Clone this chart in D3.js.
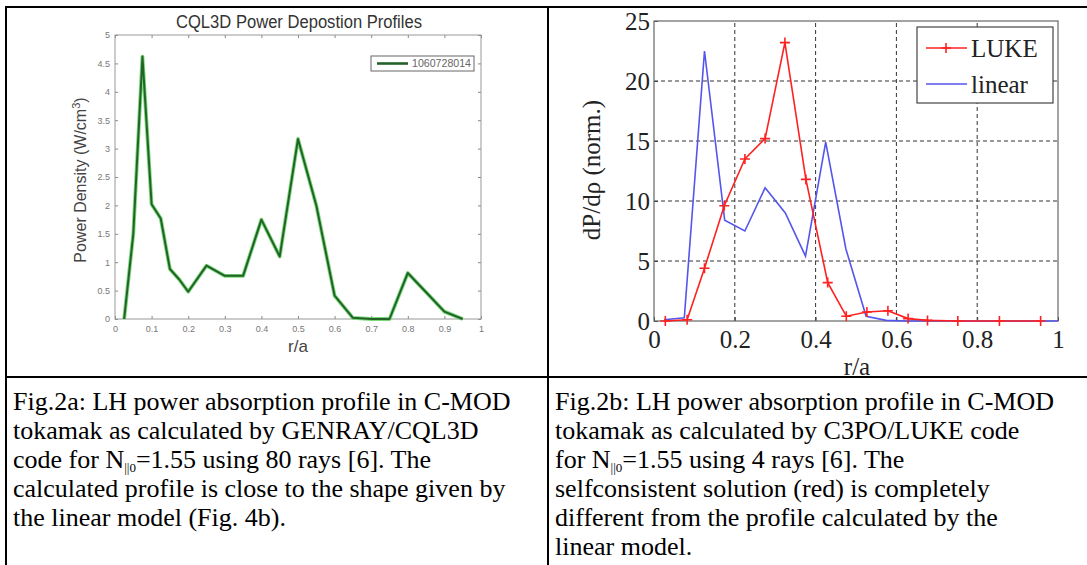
<!DOCTYPE html>
<html><head><meta charset="utf-8">
<script src="https://cdn.jsdelivr.net/npm/d3@7"></script>
<style>
body{margin:0;background:#fff;}
svg{display:block;}
</style></head>
<body>
<svg id="c" width="1087" height="565"></svg>
<script>
// ---- Data ----
const cqlX = [0.025,0.05,0.075,0.1,0.125,0.15,0.175,0.2,0.25,0.3,0.35,0.4,0.45,0.5,0.55,0.6,0.65,0.7,0.75,0.8,0.85,0.9,0.95];
const cqlY = [0,1.5,4.62,2.02,1.77,0.88,0.7,0.48,0.94,0.76,0.76,1.75,1.1,3.17,2.0,0.41,0.02,0,0,0.81,0.47,0.13,0];
const lukeX = [0.028,0.082,0.125,0.174,0.225,0.275,0.324,0.376,0.43,0.476,0.527,0.579,0.629,0.677,0.752,0.855,0.957];
const lukeY = [0,0.1,4.4,9.6,13.5,15.2,23.2,11.8,3.2,0.4,0.75,0.85,0.2,0.05,0,0,0];
const linX = [0.025,0.075,0.125,0.175,0.225,0.275,0.325,0.375,0.425,0.475,0.525,0.575,0.625,0.7,0.8,0.9,1.0];
const linY = [0.1,0.27,22.5,8.4,7.5,11.1,9.0,5.4,14.9,6.0,0.4,0.05,0,0,0,0,0];
const leftXTicks = [0,0.1,0.2,0.3,0.4,0.5,0.6,0.7,0.8,0.9,1];
const leftYTicks = [0,0.5,1,1.5,2,2.5,3,3.5,4,4.5,5];
const rightXTicks = [0,0.2,0.4,0.6,0.8,1];
const rightYTicks = [0,5,10,15,20,25];
const leftTitle = "CQL3D Power Depostion Profiles";
const leftLegend = "1060728014";
const seriesNames = ["LUKE","linear"];

const svg = d3.select("#c");
const SANS = "Liberation Sans, Arial, sans-serif";
const SERIF = "Liberation Serif, Times New Roman, serif";

// ---- Table borders ----
const tb = svg.append("g").attr("stroke","#000").attr("stroke-width",2);
tb.append("line").attr("x1",5).attr("x2",1087).attr("y1",7).attr("y2",7);
tb.append("line").attr("x1",6).attr("x2",6).attr("y1",6).attr("y2",565);
tb.append("line").attr("x1",548).attr("x2",548).attr("y1",6).attr("y2",565);
tb.append("line").attr("x1",5).attr("x2",1087).attr("y1",377).attr("y2",377);

// ---- Left chart ----
const xL = d3.scaleLinear().domain([0,1]).range([115,481]);
const yL = d3.scaleLinear().domain([0,5]).range([319,35]);
const gL = svg.append("g");
const fmtL = d => String(d);
const axStyleL = g => {
  g.select(".domain").remove();
  g.selectAll(".tick line").attr("stroke","#888");
  g.selectAll(".tick text").attr("fill","#777").attr("font-family",SANS).attr("font-size",9);
};
gL.append("g").attr("transform",`translate(0,${yL(0)})`)
  .call(d3.axisBottom(xL).tickValues(leftXTicks).tickFormat(fmtL).tickSizeInner(-3).tickSizeOuter(0).tickPadding(7)).call(axStyleL);
gL.append("g").attr("transform",`translate(0,${yL(5)})`)
  .call(d3.axisTop(xL).tickValues(leftXTicks).tickFormat("").tickSizeInner(-3).tickSizeOuter(0)).call(axStyleL);
gL.append("g").attr("transform",`translate(${xL(0)},0)`)
  .call(d3.axisLeft(yL).tickValues(leftYTicks).tickFormat(fmtL).tickSizeInner(-3).tickSizeOuter(0).tickPadding(5)).call(axStyleL);
gL.append("g").attr("transform",`translate(${xL(1)},0)`)
  .call(d3.axisRight(yL).tickValues(leftYTicks).tickFormat("").tickSizeInner(-3).tickSizeOuter(0)).call(axStyleL);
gL.append("rect").attr("x",xL(0)).attr("y",yL(5)).attr("width",xL(1)-xL(0)).attr("height",yL(0)-yL(5))
  .attr("fill","none").attr("stroke","#999").attr("stroke-width",1);

const lineL = d3.line().x(i=>xL(cqlX[i])).y(i=>yL(cqlY[i]));
const idxL = d3.range(cqlX.length);
gL.append("path").attr("d",lineL(idxL)).attr("fill","none").attr("stroke","#5fd35f").attr("stroke-width",3.8).attr("stroke-linejoin","round").attr("opacity",0.85);
gL.append("path").attr("d",lineL(idxL)).attr("fill","none").attr("stroke","#24622a").attr("stroke-width",2).attr("stroke-linejoin","round");

gL.append("text").attr("x",299).attr("y",28).attr("text-anchor","middle")
  .attr("font-family",SANS).attr("font-size",17.5).attr("fill","#333")
  .attr("textLength",246).attr("lengthAdjust","spacingAndGlyphs").text(leftTitle);
gL.append("text").attr("transform","translate(86,180) rotate(-90)").attr("text-anchor","middle")
  .attr("font-family",SANS).attr("font-size",16).attr("fill","#444")
  .html('Power Density (W/cm<tspan dy="-6" font-size="11">3</tspan><tspan dy="6">)</tspan>');
gL.append("text").attr("x",298).attr("y",352).attr("text-anchor","middle")
  .attr("font-family",SANS).attr("font-size",17).attr("fill","#444").text("r/a");
// legend
gL.append("rect").attr("x",371).attr("y",56).attr("width",103).attr("height",15).attr("fill","#fff").attr("stroke","#666").attr("stroke-width",1);
gL.append("line").attr("x1",377).attr("x2",408).attr("y1",63.5).attr("y2",63.5).attr("stroke","#24622a").attr("stroke-width",2.6);
gL.append("text").attr("x",412).attr("y",67).attr("font-family",SANS).attr("font-size",10)
  .attr("textLength",59).attr("lengthAdjust","spacingAndGlyphs").attr("fill","#666").text(leftLegend);

// ---- Right chart ----
const xR = d3.scaleLinear().domain([0,1]).range([654,1058]);
const yR = d3.scaleLinear().domain([0,25]).range([321,21]);
const gR = svg.append("g");
// grid
gR.selectAll(".gx").data(rightXTicks.filter(d=>d>0&&d<1)).join("line")
  .attr("x1",d=>xR(d)).attr("x2",d=>xR(d)).attr("y1",yR(0)).attr("y2",yR(25))
  .attr("stroke","#333").attr("stroke-width",1).attr("stroke-dasharray","4,3");
gR.selectAll(".gy").data(rightYTicks.filter(d=>d>0&&d<25)).join("line")
  .attr("x1",xR(0)).attr("x2",xR(1)).attr("y1",d=>yR(d)).attr("y2",d=>yR(d))
  .attr("stroke","#333").attr("stroke-width",1).attr("stroke-dasharray","4,3");
const axStyleR = g => {
  g.select(".domain").remove();
  g.selectAll(".tick line").attr("stroke","#444");
  g.selectAll(".tick text").attr("fill","#222").attr("font-family",SERIF).attr("font-size",25);
};
gR.append("g").attr("transform",`translate(0,${yR(0)})`)
  .call(d3.axisBottom(xR).tickValues(rightXTicks).tickFormat(d=>String(d)).tickSizeInner(-4).tickSizeOuter(0).tickPadding(9)).call(axStyleR);
gR.append("g").attr("transform",`translate(${xR(0)},0)`)
  .call(d3.axisLeft(yR).tickValues(rightYTicks).tickSizeInner(-4).tickSizeOuter(0).tickPadding(4)).call(axStyleR);
gR.append("rect").attr("x",xR(0)).attr("y",yR(25)).attr("width",xR(1)-xR(0)).attr("height",yR(0)-yR(25))
  .attr("fill","none").attr("stroke","#666").attr("stroke-width",1.2);

const lineLuke = d3.line().x(i=>xR(lukeX[i])).y(i=>yR(lukeY[i]));
const lineLin = d3.line().x(i=>xR(linX[i])).y(i=>yR(linY[i]));
gR.append("path").attr("d",lineLin(d3.range(linX.length))).attr("fill","none").attr("stroke","#5555ee").attr("stroke-width",1.6);
gR.append("path").attr("d",lineLuke(d3.range(lukeX.length))).attr("fill","none").attr("stroke","#ff2020").attr("stroke-width",1.6);
gR.selectAll(".mk").data(d3.range(lukeX.length)).join("path")
  .attr("d",i=>{const x=xR(lukeX[i]),y=yR(lukeY[i]);return `M${x-5},${y}H${x+5}M${x},${y-5}V${y+5}`;})
  .attr("stroke","#ff2020").attr("stroke-width",1.6).attr("fill","none");

gR.append("text").attr("transform","translate(600,170) rotate(-90)").attr("text-anchor","middle")
  .attr("font-family",SERIF).attr("font-size",25).attr("fill","#222").text("dP/dρ (norm.)");
gR.append("text").attr("x",857).attr("y",375).attr("text-anchor","middle")
  .attr("font-family",SERIF).attr("font-size",25).attr("fill","#222").text("r/a");
// legend
gR.append("rect").attr("x",917).attr("y",27).attr("width",136).attr("height",76).attr("fill","#fff").attr("stroke","#444").attr("stroke-width",1.2);
gR.append("line").attr("x1",926).attr("x2",967).attr("y1",48).attr("y2",48).attr("stroke","#ff2020").attr("stroke-width",1.6);
gR.append("path").attr("d","M941,48H951M946,43V53").attr("stroke","#ff2020").attr("stroke-width",1.6);
gR.append("line").attr("x1",926).attr("x2",967).attr("y1",84).attr("y2",84).attr("stroke","#5555ee").attr("stroke-width",1.6);
gR.append("text").attr("x",971).attr("y",57).attr("font-family",SERIF).attr("font-size",25).attr("fill","#222").text(seriesNames[0]);
gR.append("text").attr("x",971).attr("y",93).attr("font-family",SERIF).attr("font-size",25).attr("fill","#222").text(seriesNames[1]);

// ---- Captions ----
const sub = 'N<tspan font-size="13" dy="3.5">||0</tspan><tspan dy="-3.5">';
const capL = [
 'Fig.2a: LH power absorption profile in C-MOD',
 'tokamak as calculated by GENRAY/CQL3D',
 'code for ' + sub + '=1.55 using 80 rays [6]. The</tspan>',
 'calculated profile is close to the shape given by',
 'the linear model (Fig. 4b).'
];
const capR = [
 'Fig.2b: LH power absorption profile in C-MOD',
 'tokamak as calculated by C3PO/LUKE code',
 'for ' + sub + '=1.55 using 4 rays [6]. The</tspan>',
 'selfconsistent solution (red) is completely',
 'different from the profile calculated by the',
 'linear model.'
];
const capG = svg.append("g").attr("font-family",SERIF).attr("font-size",26).attr("fill","#000");
capG.selectAll(".cl").data(capL).join("text").attr("x",13).attr("y",(d,i)=>410+i*29).html(d=>d);
capG.selectAll(".cr").data(capR).join("text").attr("x",555).attr("y",(d,i)=>410+i*29).html(d=>d);
</script>
</body></html>
